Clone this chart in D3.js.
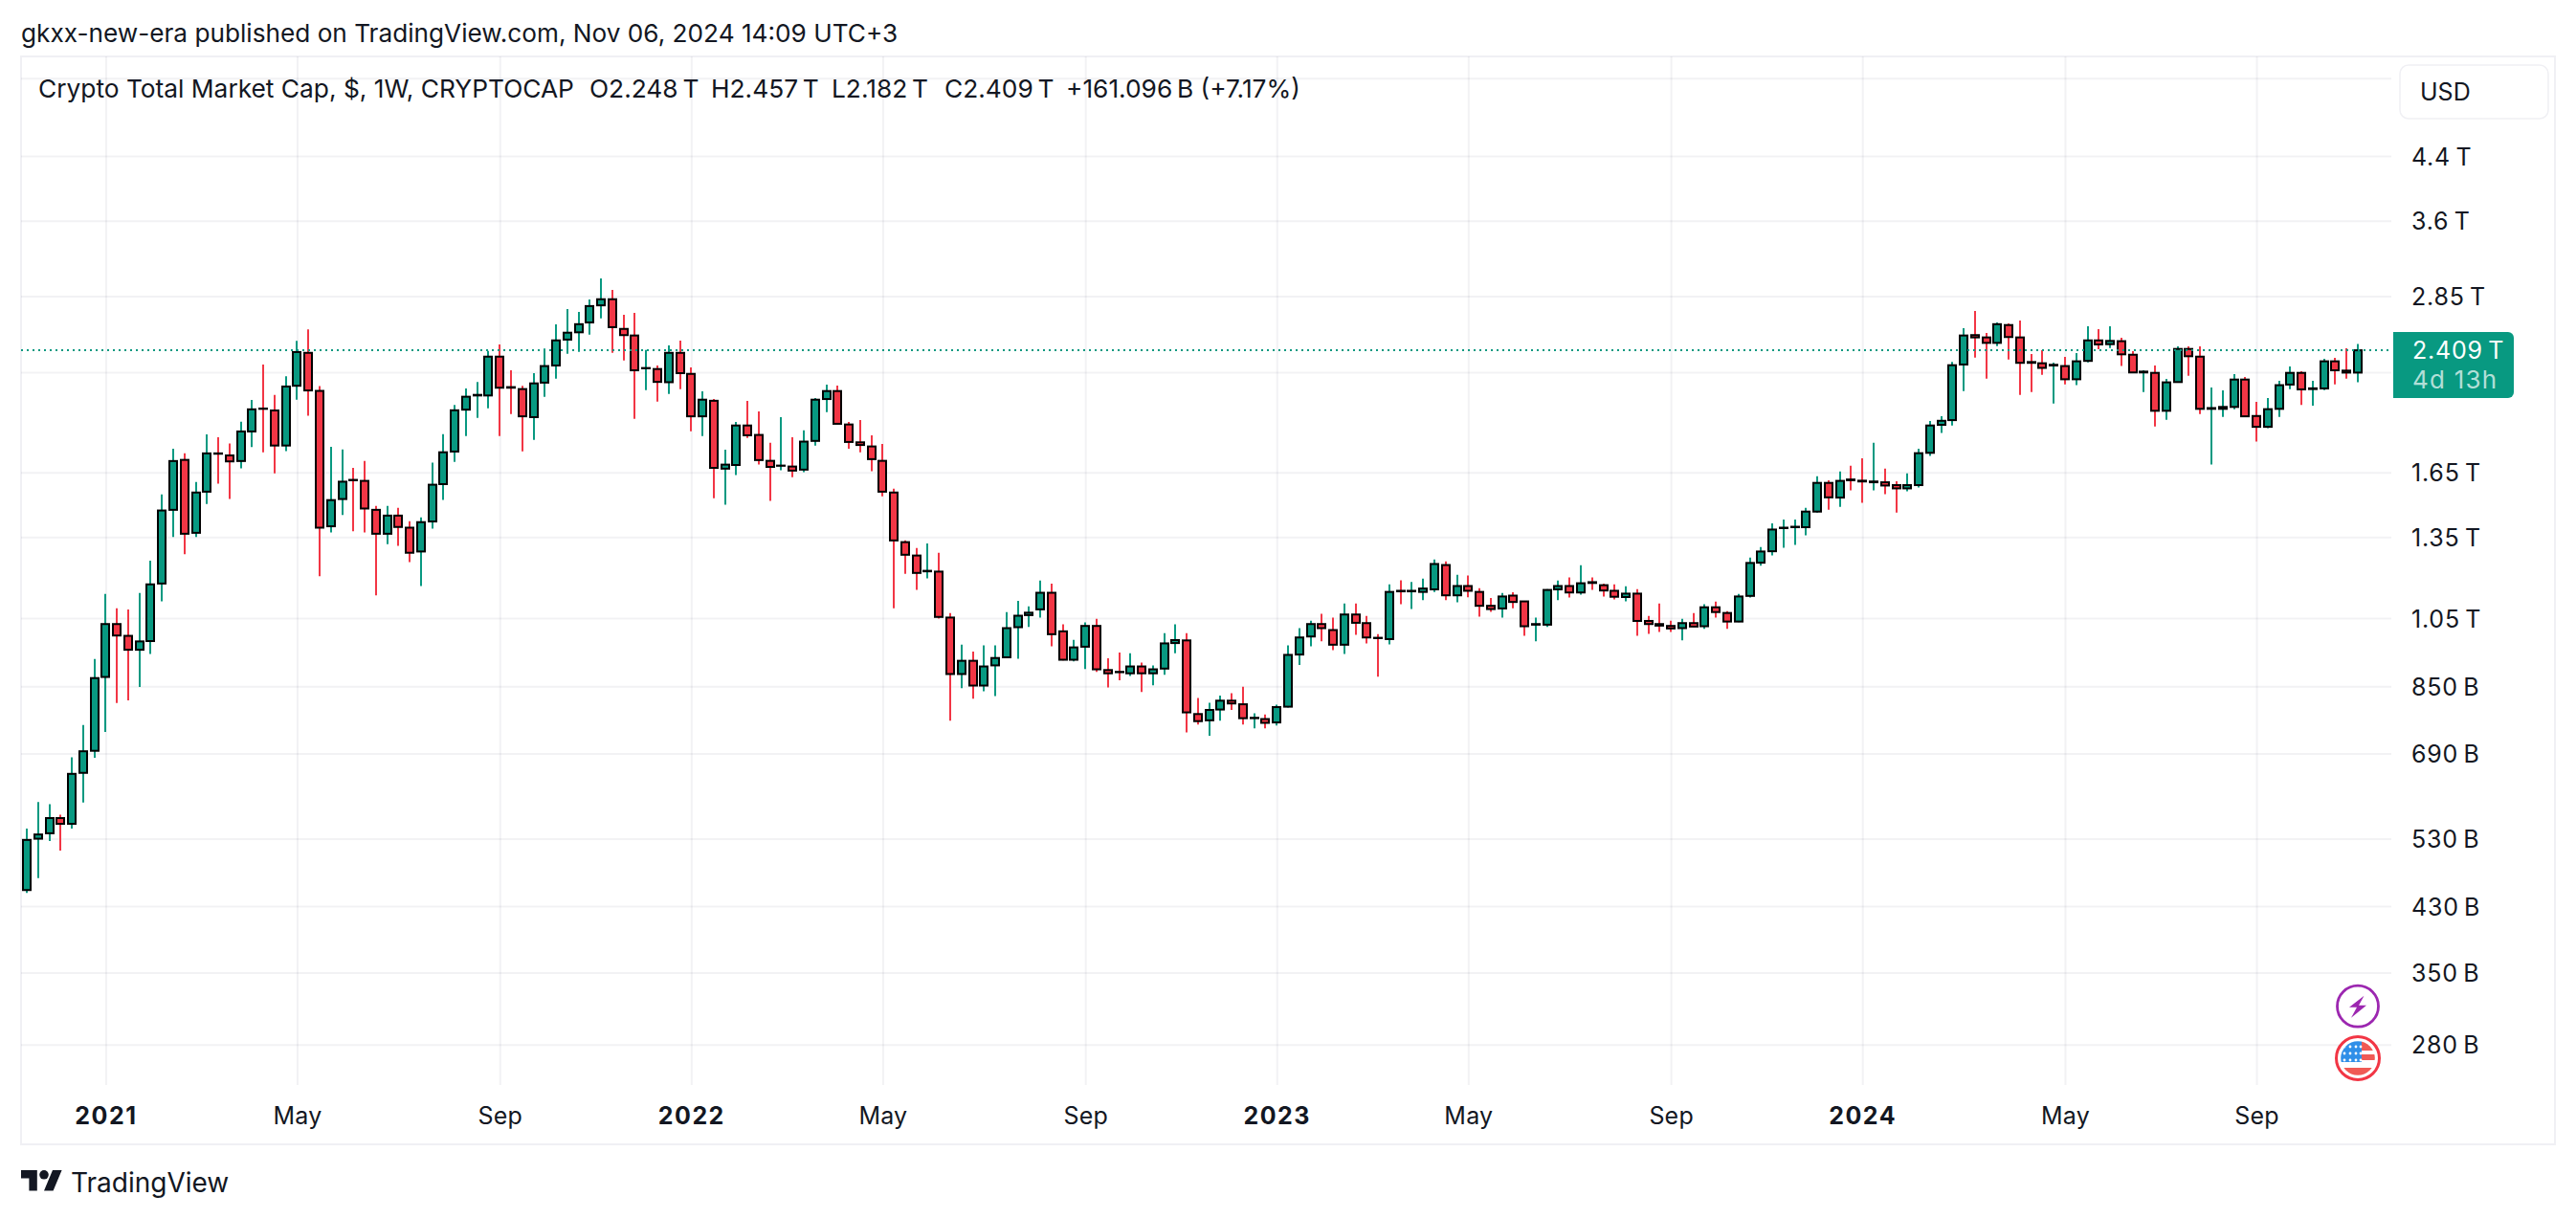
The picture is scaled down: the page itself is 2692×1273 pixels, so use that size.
<!DOCTYPE html>
<html><head><meta charset="utf-8">
<script src="https://cdn.jsdelivr.net/npm/d3@7/dist/d3.min.js"></script>
<style>
html,body{margin:0;padding:0;background:#fff;overflow:hidden}
text{font-family:Inter,"Noto Sans",sans-serif;fill:#131722}
</style></head><body><svg id="c" width="2692" height="1273" xmlns="http://www.w3.org/2000/svg"></svg>
<script>
// Weekly OHLC, USD billions, first bar = week of 2020-11-16
const firstWeek = "2020-11-16";
const opens = [452,530,539,565,555,650,696,875,1031,994,952,978,1169,1469,1715,1368,1554,1750,1739,1709,1873,2011,1999,1793,2158,2390,2124,1396,1519,1612,1607,1469,1364,1443,1390,1291,1417,1591,1760,2004,2094,2094,2362,2149,2136,1958,2179,2298,2490,2547,2626,2769,2822,2574,2522,2278,2273,2182,2390,2239,1963,2060,1669,1688,1908,1853,1710,1684,1680,1664,1819,2071,2123,1914,1811,1788,1710,1550,1329,1275,1214,1213,1052,883,920,852,907,930,1021,1060,1079,1136,1008,923,961,1025,894,889,885,904,885,898,972,980,780,765,791,813,804,770,768,760,798,938,992,1031,1012,967,1062,1034,988,984,1143,1141,1139,1148,1238,1127,1160,1139,1091,1082,1126,1106,1029,1029,1148,1160,1137,1174,1163,1143,1121,1133,1041,1031,1025,1018,1034,1024,1086,1067,1039,1125,1247,1292,1388,1392,1392,1461,1597,1526,1614,1608,1600,1600,1586,1570,1586,1753,1912,1940,2305,2525,2507,2465,2605,2507,2323,2314,2298,2294,2202,2331,2484,2455,2478,2376,2249,2246,1997,2183,2419,2362,2009,2009,2021,2200,1965,1900,2009,2166,2246,2136,2140,2328,2262,2248];
const highs = [547,594,590,571,682,754,925,1132,1083,1079,1135,1255,1541,1775,1750,1601,1856,1840,1804,1930,2065,2304,2097,2223,2481,2571,2156,1786,1771,1673,1709,1487,1487,1478,1418,1435,1700,1857,2033,2140,2184,2404,2453,2264,2158,2244,2422,2610,2737,2713,2820,3010,2905,2689,2705,2412,2298,2446,2482,2285,2121,2071,1770,1929,2059,1993,1808,1958,1840,1879,2077,2166,2160,1929,1940,1851,1802,1568,1336,1305,1324,1286,1067,967,947,965,965,1070,1108,1089,1180,1169,1030,982,1036,1048,927,944,942,915,907,1002,1030,1002,820,808,826,832,849,782,779,803,965,1018,1042,1064,1052,1099,1099,1057,999,1166,1181,1175,1187,1259,1252,1201,1198,1152,1118,1135,1138,1108,1052,1149,1180,1191,1237,1191,1169,1166,1159,1149,1057,1099,1042,1048,1067,1096,1105,1073,1132,1267,1309,1409,1426,1426,1478,1630,1610,1654,1684,1724,1808,1669,1605,1645,1776,1935,1963,2323,2580,2721,2542,2626,2618,2642,2381,2409,2319,2360,2388,2595,2573,2595,2505,2402,2264,2298,2205,2439,2439,2439,2147,2127,2238,2218,2053,2077,2192,2291,2258,2192,2346,2353,2424,2457];
const lows = [448,469,526,511,547,593,681,738,807,814,848,940,1106,1350,1280,1350,1496,1593,1519,1671,1784,1756,1645,1762,2067,1966,1196,1370,1446,1375,1370,1127,1321,1314,1249,1160,1386,1515,1705,1847,1954,2012,1847,1977,1761,1825,2086,2206,2383,2397,2528,2660,2390,2334,1948,2129,2054,2104,2136,1874,1847,1523,1492,1636,1836,1690,1510,1661,1626,1651,1793,1989,1916,1776,1756,1656,1532,1083,1205,1146,1188,1049,764,845,818,837,825,928,926,1022,1052,962,921,918,897,889,847,866,878,835,853,881,942,737,755,729,764,790,755,746,746,753,796,908,962,977,951,940,997,971,876,968,1096,1080,1110,1139,1110,1103,1120,1055,1071,1052,1083,994,977,1022,1110,1119,1129,1146,1123,1113,1106,994,1000,1006,1006,980,1022,1016,1052,1016,1037,1119,1235,1275,1306,1318,1357,1457,1470,1483,1561,1501,1561,1542,1457,1556,1574,1736,1864,1908,2123,2355,2206,2441,2341,2098,2117,2233,2043,2168,2162,2321,2417,2426,2294,2247,2117,1902,1942,2181,2226,1977,1690,1960,2007,1961,1815,1892,1960,2136,2033,2029,2129,2168,2206,2182];
const closes = [528,537,565,555,648,695,872,1031,995,952,977,1166,1466,1709,1364,1550,1750,1748,1707,1873,2006,2009,1793,2153,2396,2127,1390,1514,1603,1610,1475,1364,1443,1393,1286,1414,1588,1756,2000,2086,2098,2362,2145,2145,1963,2174,2294,2484,2544,2612,2763,2822,2588,2525,2264,2280,2184,2390,2244,1963,2067,1673,1690,1908,1851,1714,1678,1685,1659,1815,2067,2123,1918,1813,1796,1719,1554,1336,1278,1208,1216,1054,883,920,852,904,928,1018,1058,1068,1136,999,923,959,1025,896,885,888,904,885,896,971,981,784,763,790,813,806,770,771,759,797,937,989,1031,1018,967,1062,1035,989,987,1139,1141,1143,1151,1242,1127,1160,1143,1091,1080,1123,1104,1024,1031,1146,1160,1137,1170,1171,1144,1122,1133,1041,1031,1026,1017,1034,1023,1086,1070,1039,1123,1246,1291,1382,1390,1394,1461,1597,1527,1607,1610,1604,1604,1584,1570,1586,1751,1908,1936,2300,2522,2507,2465,2612,2510,2317,2317,2281,2303,2202,2328,2484,2453,2480,2379,2249,2255,1997,2181,2419,2365,2009,2014,2021,2200,1963,1900,2007,2162,2246,2134,2141,2328,2264,2248,2409];
const gridPrices = [5600,4400,3600,2850,2250,1650,1350,1050,850,690,530,430,350,280];
const priceLabels = {4400:"4.4\u2009T",3600:"3.6\u2009T",2850:"2.85\u2009T",1650:"1.65\u2009T",1350:"1.35\u2009T",1050:"1.05\u2009T",850:"850\u2009B",690:"690\u2009B",530:"530\u2009B",430:"430\u2009B",350:"350\u2009B",280:"280\u2009B"};
const timeTicks = ["2021-01-04","2021-05-03","2021-09-06","2022-01-03","2022-05-02","2022-09-05","2023-01-02","2023-05-01","2023-09-04","2024-01-01","2024-05-06","2024-09-02"];
const timeLabels = ["2021","May","Sep","2022","May","Sep","2023","May","Sep","2024","May","Sep"];
const lastPrice = 2409;
const lastLabel = "2.409\u2009T", countdown = "4d 13h";

const GREEN="#089981", RED="#F23645", GRID="rgba(40,40,60,0.06)", FRAME="#F0F0F4";
const svg=d3.select("#c");
const left=22, top_=59, right=2670, bottom=1196, plotR=2499, plotB=1134;
const weeks=opens.map((_,i)=>d3.utcMonday.offset(new Date(firstWeek+"T00:00:00Z"),i));
const x=d3.scaleUtc().domain([weeks[0],weeks[weeks.length-1]]).range([28,2464]);
const y=d3.scaleLog().domain([4400,280]).range([163,1091.7]);

// frame
svg.append("rect").attr("x",left).attr("y",top_).attr("width",right-left).attr("height",bottom-top_)
  .attr("fill","#fff").attr("stroke",FRAME).attr("stroke-width",2);

// grid
const plot=svg.append("g");
const tickDates=timeTicks.map(d=>new Date(d+"T00:00:00Z"));
plot.append("g").attr("transform",`translate(0,${plotB})`)
  .call(d3.axisBottom(x).tickValues(tickDates).tickFormat("").tickSize(plotB-top_).tickSizeOuter(0))
  .call(g=>g.select(".domain").remove())
  .call(g=>g.selectAll("line").attr("y2",-(plotB-top_)).attr("stroke",GRID).attr("stroke-width",2));
plot.append("g").attr("transform",`translate(${left},0)`)
  .call(d3.axisRight(y).tickValues(gridPrices).tickFormat("").tickSize(plotR-left))
  .call(g=>g.select(".domain").remove())
  .call(g=>g.selectAll("line").attr("stroke",GRID).attr("stroke-width",2));

// candles
const candles=plot.append("g").selectAll("g").data(weeks).join("g");
const col=(_,i)=>closes[i]>=opens[i]?GREEN:RED;
const cx=d=>Math.round(x(d));
candles.append("line").attr("x1",cx).attr("x2",cx)
  .attr("y1",(_,i)=>y(highs[i])).attr("y2",(_,i)=>y(lows[i]))
  .attr("stroke",col).attr("stroke-width",2);
candles.append("rect").attr("x",d=>cx(d)-4).attr("width",8)
  .attr("y",(_,i)=>y(Math.max(opens[i],closes[i])))
  .attr("height",(_,i)=>Math.abs(y(opens[i])-y(closes[i])))
  .attr("fill",col).attr("stroke","#000").attr("stroke-width",2);

// last price line
plot.append("line").attr("x1",left).attr("x2",plotR).attr("y1",y(lastPrice)).attr("y2",y(lastPrice))
  .attr("stroke",GREEN).attr("stroke-width",2).attr("stroke-dasharray","2 4");

// time axis labels
const xa=svg.append("g").attr("transform",`translate(0,${plotB})`)
  .call(d3.axisBottom(x).tickValues(tickDates).tickSize(0).tickPadding(0).tickFormat((d,i)=>timeLabels[i]));
xa.select(".domain").remove();
xa.selectAll("text").attr("y",32).attr("dy","0.36em").attr("font-size",25)
  .style("font-family","Inter").style("fill","#131722")
  .attr("font-weight",(d,i)=>/^\d/.test(timeLabels[i])?700:400)
  .attr("letter-spacing",(d,i)=>/^\d/.test(timeLabels[i])?"1.5px":"0.2px");

// price axis labels
const labelled=gridPrices.filter(p=>priceLabels[p]);
const ya=svg.append("g").attr("transform",`translate(2520,0)`)
  .call(d3.axisRight(y).tickValues(labelled).tickSize(0).tickPadding(0).tickFormat(d=>priceLabels[d]));
ya.select(".domain").remove();
ya.selectAll("text").attr("dy","0.36em").attr("font-size",25).attr("letter-spacing","0.8px")
  .style("font-family","Inter").style("fill","#131722");

// price tag
svg.append("path").attr("d","M2501 347H2621a6 6 0 0 1 6 6V410a6 6 0 0 1 -6 6H2501Z").attr("fill",GREEN);
svg.append("text").attr("x",2521).attr("y",y(lastPrice)).attr("dy","0.36em").attr("font-size",25).attr("letter-spacing","0.8px").style("fill","#fff").text(lastLabel);
svg.append("text").attr("x",2521).attr("y",397).attr("dy","0.36em").attr("font-size",26).attr("letter-spacing","1.2px").style("fill","rgba(255,255,255,0.7)").text(countdown);

// USD button
svg.append("rect").attr("x",2508).attr("y",68).attr("width",155).attr("height",56).attr("rx",9).attr("fill","#fff").attr("stroke",FRAME).attr("stroke-width",1.5);
svg.append("text").attr("x",2529).attr("y",96).attr("dy","0.36em").attr("font-size",25).text("USD");

// header
svg.append("text").attr("x",22).attr("y",35).attr("dy","0.36em").attr("font-size",26.2).text("gkxx-new-era published on TradingView.com, Nov 06, 2024 14:09 UTC+3");
const legend=[[40,"Crypto Total Market Cap, $, 1W, CRYPTOCAP"],[616,"O2.248\u2009T"],[743,"H2.457\u2009T"],[869,"L2.182\u2009T"],[987,"C2.409\u2009T"],[1114,"+161.096\u2009B (+7.17%)"]];
svg.append("g").selectAll("text").data(legend).join("text")
  .attr("x",d=>d[0]).attr("y",93).attr("dy","0.36em").attr("font-size",26.3).text(d=>d[1]);

// event icons
const ic=svg.append("g").attr("transform","translate(2464,1051.7)");
ic.append("circle").attr("r",21.5).attr("fill","#fff").attr("stroke","#9C27B0").attr("stroke-width",2.8);
ic.append("path").attr("d","M6.5 -11 L-9 1 H-1 L-7 12 L9 -1 H1 Z").attr("fill","#9C27B0");
const fl=svg.append("g").attr("transform","translate(2464,1106)");
fl.append("circle").attr("r",22.5).attr("fill","#fff").attr("stroke","#F23645").attr("stroke-width",3);
svg.append("clipPath").attr("id","fc").append("circle").attr("r",17.8);
const f=fl.append("g").attr("clip-path","url(#fc)");
[[4,-18,10],[4,-4,6],[-18,10,10]].forEach(([rx,ry,rh])=>f.append("rect").attr("x",rx).attr("y",ry).attr("width",36).attr("height",rh).attr("fill","#F05A55"));
f.append("rect").attr("x",-18).attr("y",-18).attr("width",22).attr("height",22).attr("fill","#2F8FE8");
[-12,-5,2].forEach(yy=>[-14,-8,-2,3].forEach(xx=>f.append("circle").attr("cx",xx).attr("cy",yy).attr("r",1.4).attr("fill","#fff")));

// footer logo
svg.append("path").attr("transform","translate(22,1218.2) scale(1.2)").attr("fill","#131722")
  .attr("d","M14 22H7V11H0V4h14v18zM28 22h-8l7.5-18h8L28 22z");
svg.append("circle").attr("cx",22+20*1.2).attr("cy",1218.2+8*1.2).attr("r",4.8).attr("fill","#131722");
svg.append("text").attr("x",74).attr("y",1236).attr("dy","0.36em").attr("font-size",28).text("TradingView");
</script></body></html>
